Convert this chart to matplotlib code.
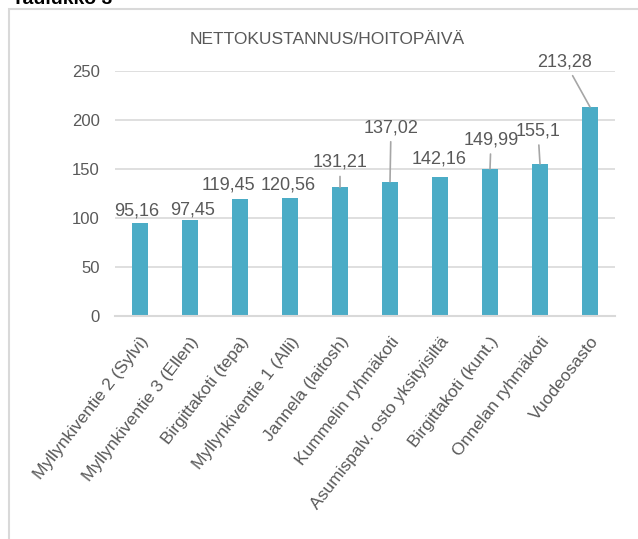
import matplotlib.pyplot as plt
from matplotlib.patches import Rectangle

# data
categories = ["Myllynkiventie 2 (Sylvi)", "Myllynkiventie 3 (Ellen)", "Birgittakoti (tepa)",
              "Myllynkiventie 1 (Alli)", "Jannela (laitosh)", "Kummelin ryhmäkoti",
              "Asumispalv. osto yksityisiltä", "Birgittakoti (kunt.)", "Onnelan ryhmäkoti",
              "Vuodeosasto"]
values = [95.16, 97.45, 119.45, 120.56, 131.21, 137.02, 142.16, 149.99, 155.1, 213.28]
yticks = [0, 50, 100, 150, 200, 250]

# label placement (pixels from bar top) and leader lines
label_dx = [-3, 3, -12, -2, 0, 1, -1, 1, -2, -25]
label_dy = [12, 10, 14, 13, 25, 54, 18, 29, 33, 45]
leader = [False, False, False, False, True, True, False, True, True, True]

bar_color = "#4BACC6"
text_color = "#595959"
grid_color = "#D9D9D9"
plt.rcParams['font.family'] = ['Liberation Sans', 'DejaVu Sans']

fig = plt.figure(figsize=(6.38, 5.39), dpi=100)
ax = fig.add_axes([115 / 638, 1 - 316 / 539, 500 / 638, 245 / 539])

# outer chart border (cut by the page on right and bottom)
fig.patches.append(Rectangle((9 / 638, -0.1), 1.0, 1 - 9 / 539 + 0.1, transform=fig.transFigure,
                             fill=False, edgecolor="#D9D9D9", linewidth=1.5))
# heading above the chart, mostly cut off by the top edge
fig.text(12 / 638, 1 - 4 / 539, "Taulukko 3", fontsize=14, fontweight='bold', color='black',
         ha='left', va='baseline')

x = range(len(categories))
ax.bar(x, values, width=0.32, color=bar_color, zorder=2)

ax.set_xlim(-0.5, len(categories) - 0.5)
ax.set_ylim(0, 250)
ax.set_yticks(yticks)
ax.set_yticklabels([str(t) for t in yticks], color=text_color, fontsize=12)
ax.yaxis.grid(True, color=grid_color, linewidth=1.2, zorder=0)
ax.set_axisbelow(True)
for side in ['top', 'right', 'left']:
    ax.spines[side].set_visible(False)
ax.spines['bottom'].set_color(grid_color)
ax.spines['bottom'].set_linewidth(1.5)
ax.tick_params(axis='both', length=0)
ax.tick_params(axis='y', pad=11)

ax.set_xticks(list(x))
ax.set_xticklabels(categories, rotation=52, ha='right', va='top', rotation_mode='anchor',
                   color=text_color, fontsize=12.5)
ax.tick_params(axis='x', pad=13)

for i, v in enumerate(values):
    txt = str(v).replace('.', ',')
    props = dict(arrowstyle='-', color='#A6A6A6', lw=1.2, shrinkA=2, shrinkB=0) if leader[i] else None
    ax.annotate(txt, xy=(i, v), xytext=(label_dx[i], label_dy[i]), textcoords='offset pixels',
                ha='center', va='center', fontsize=13, color=text_color,
                arrowprops=props, annotation_clip=False)

fig.text(327 / 638, 1 - 39 / 539, "NETTOKUSTANNUS/HOITOPÄIVÄ", fontsize=12.5, color=text_color,
         ha='center', va='center')

fig.savefig("out.png", dpi=100)
